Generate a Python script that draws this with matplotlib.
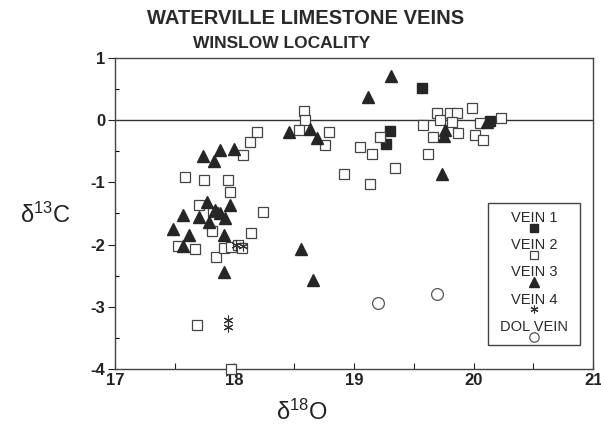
import matplotlib
matplotlib.use("Agg")
import matplotlib.pyplot as plt
from matplotlib.ticker import MultipleLocator
from matplotlib.patches import Rectangle

plt.rcParams["font.family"] = ["Liberation Sans", "DejaVu Sans"]
plt.rcParams["axes.unicode_minus"] = False
plt.rcParams["mathtext.fontset"] = "custom"
plt.rcParams["mathtext.rm"] = "Liberation Sans"
plt.rcParams["mathtext.it"] = "Liberation Sans"

# --- data (d18O, d13C) ---
vein1_x = [19.57, 19.30, 19.27, 20.14]
vein1_y = [0.52, -0.17, -0.39, -0.01]

vein2_x = [17.59, 17.75, 17.95, 17.96, 17.70, 17.82, 18.24, 17.81, 18.14, 17.53,
           17.67, 17.85, 17.91, 17.97, 18.03, 18.06, 18.07, 18.13, 18.19, 17.69,
           17.97, 18.58, 18.59, 18.54, 18.79, 18.76, 18.92, 19.05, 19.13, 19.15,
           19.22, 19.34, 19.58, 19.62, 19.66, 19.69, 19.72, 19.80, 19.86, 19.82,
           19.87, 19.99, 20.01, 20.05, 20.08, 20.23]
vein2_y = [-0.91, -0.96, -0.96, -1.16, -1.36, -1.47, -1.48, -1.78, -1.81, -2.03,
           -2.08, -2.20, -2.06, -2.04, -2.01, -2.05, -0.56, -0.35, -0.19, -3.30,
           -4.00, 0.15, 0.00, -0.16, -0.19, -0.40, -0.86, -0.43, -1.02, -0.54,
           -0.27, -0.77, -0.08, -0.54, -0.27, 0.12, 0.00, 0.11, 0.11, -0.03,
           -0.21, 0.19, -0.24, -0.05, -0.32, 0.03]

vein3_x = [17.74, 17.83, 17.88, 18.00, 17.77, 17.96, 17.57, 17.70, 17.88, 17.92,
           17.79, 17.49, 17.62, 17.91, 17.57, 17.91, 17.84, 18.56, 18.66, 18.46,
           18.63, 18.69, 19.12, 19.31, 19.76, 19.75, 19.74, 20.11]
vein3_y = [-0.58, -0.65, -0.48, -0.46, -1.32, -1.37, -1.52, -1.55, -1.50, -1.58,
           -1.63, -1.75, -1.84, -1.84, -2.03, -2.44, -1.45, -2.08, -2.57, -0.19,
           -0.15, -0.28, 0.37, 0.71, -0.16, -0.26, -0.86, -0.03]

vein4_x = [17.95, 17.95, 18.07, 18.01]
vein4_y = [-3.21, -3.33, -2.02, -2.00]

dol_x = [19.20, 19.69]
dol_y = [-2.94, -2.80]

series = [
    ("VEIN 1", vein1_x, vein1_y, dict(marker="s", ms=6.5, mfc="#262626", mec="#262626")),
    ("VEIN 2", vein2_x, vein2_y, dict(marker="s", ms=7.3, mfc="white", mec="#444444", mew=0.9)),
    ("VEIN 3", vein3_x, vein3_y, dict(marker="^", ms=8.5, mfc="#262626", mec="#262626")),
    ("VEIN 4", vein4_x, vein4_y, dict(marker=(6, 2, 0), ms=7, mfc="none", mec="#333333", mew=0.8)),
    ("DOL VEIN", dol_x, dol_y, dict(marker="o", ms=8.5, mfc="none", mec="#555555", mew=0.9)),
]

fig = plt.figure(figsize=(6.01, 4.36), dpi=100)
ax = fig.add_axes([0.191, 0.154, 0.796, 0.713])

for name, xs, ys, st in series:
    ax.plot(xs, ys, ls="none", clip_on=False, zorder=3, **st)

ax.axhline(0, color="#333333", lw=1.0, zorder=1)

ax.set_xlim(17, 21)
ax.set_ylim(-4, 1)
ax.xaxis.set_major_locator(MultipleLocator(1))
ax.xaxis.set_minor_locator(MultipleLocator(0.5))
ax.yaxis.set_major_locator(MultipleLocator(1))
ax.yaxis.set_minor_locator(MultipleLocator(0.5))
ax.tick_params(axis="x", which="both", direction="in", length=4, width=0.8,
               labelsize=12, pad=3, colors="#222222")
ax.tick_params(axis="y", which="major", direction="out", length=5, width=0.8,
               labelsize=12, pad=2, colors="#222222")
ax.tick_params(axis="y", which="minor", direction="in", length=3, width=0.8)
for lab in ax.get_xticklabels() + ax.get_yticklabels():
    lab.set_fontweight("bold")
for sp in ax.spines.values():
    sp.set_color("#444444")
    sp.set_linewidth(1.0)

ax.set_xlabel("δ$^{18}$O", fontsize=17, color="#222222")
ax.xaxis.set_label_coords(0.39, -0.10)
ax.set_ylabel("δ$^{13}$C", fontsize=17, rotation=0, color="#222222", va="center")
ax.yaxis.set_label_coords(-0.145, 0.495)

fig.text(0.508, 0.958, "WATERVILLE LIMESTONE VEINS", ha="center", va="center",
         fontsize=14.5, fontweight="bold", color="#2a2a2a")
fig.text(0.469, 0.900, "WINSLOW LOCALITY", ha="center", va="center",
         fontsize=12.5, fontweight="bold", color="#2a2a2a")

# legend box: label above, symbol below
box_x0, box_y0, box_w, box_h = 0.780, 0.077, 0.193, 0.457
ax.add_patch(Rectangle((box_x0, box_y0), box_w, box_h, transform=ax.transAxes,
                       fill=False, ec="#444444", lw=1.0, zorder=4))
cx = box_x0 + box_w / 2
step = 0.087
for i, (name, xs, ys, st) in enumerate(series):
    ty = box_y0 + box_h - 0.05 - i * step
    ax.text(cx, ty, name, transform=ax.transAxes, ha="center", va="center",
            fontsize=10.5, color="#2a2a2a", zorder=5)
    ax.plot([cx], [ty - 0.032], transform=ax.transAxes, ls="none", zorder=6,
            clip_on=False, **dict(st, ms=st["ms"] * 0.8))

fig.savefig("out.png", dpi=100, facecolor="white")
